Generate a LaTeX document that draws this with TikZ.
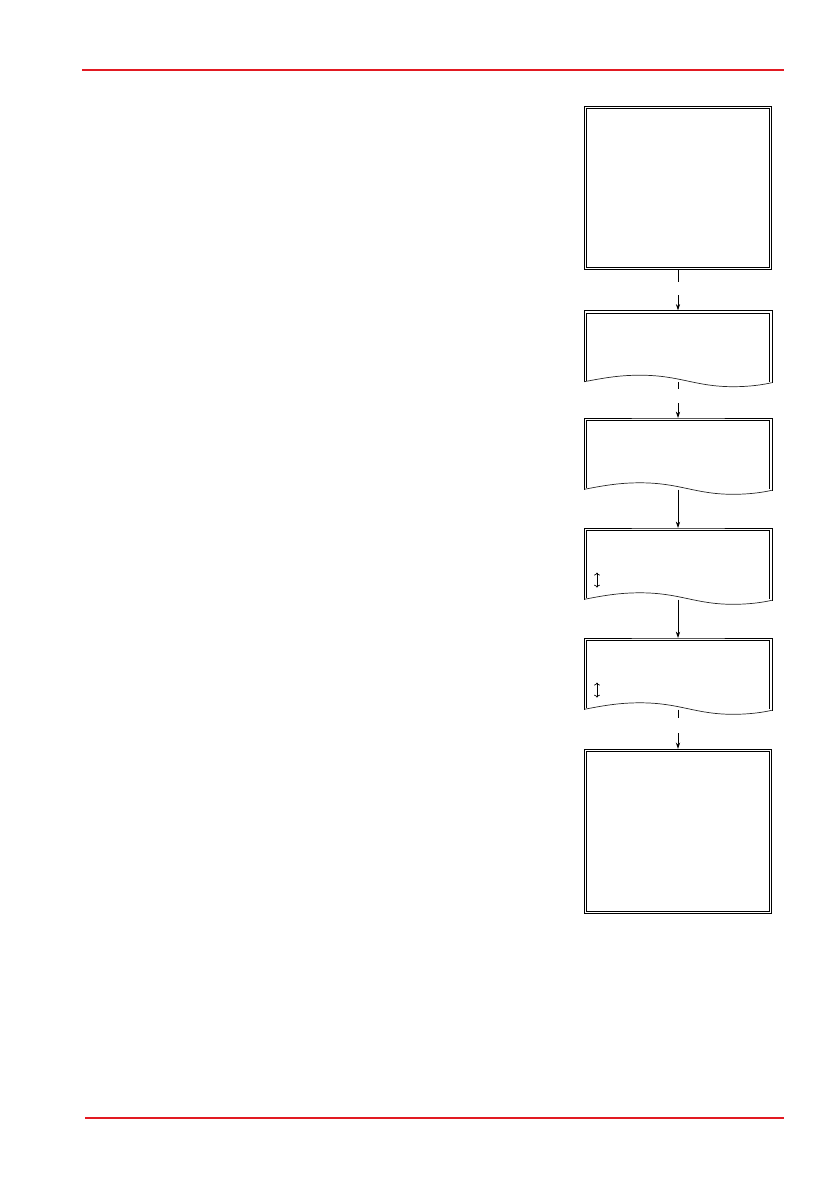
\documentclass[tikz,border=0pt]{standalone}
\usetikzlibrary{arrows.meta,calc}
\definecolor{rulered}{RGB}{226,26,34}
\begin{document}
\begin{tikzpicture}[x=0.7095pt, y=-0.7095pt]
      \tikzstyle{display}=[draw, line width=0.6pt, minimum width=133pt,
                           inner sep=0pt]
      \tikzstyle{screen}=[draw=none, minimum width=133pt, minimum height=50.4pt,
                          inner sep=0pt]
      \tikzstyle{frame}=[line width=0.6pt]
      \tikzstyle{wave}=[line width=0.5pt, black!85]
      \tikzstyle{link}=[line width=0.5pt]
      \tikzstyle{arrow}=[line width=0.5pt, -{Stealth[length=4.5pt, width=3pt]}]
      \tikzstyle{updown}=[line width=0.5pt, {To[length=2pt]}-{To[length=2pt]}]
      \tikzstyle{redline}=[rulered, line width=1.5pt]
      \useasboundingbox (0,0) rectangle (839,1191);
      % page rules
      \draw[redline] (82,70) -- (784,70);
      \draw[redline] (85,1118) -- (784,1118);
      % menu screens
      \node[display, minimum height=115.9pt] (b1) at (678,187.7) {};
      \draw[frame] ($(b1.north west)+(2.7,2.7)$) rectangle ($(b1.south east)+(-2.7,-2.7)$);
      \foreach \n/\t [evaluate=\t as \b using \t+71] in
          {b2/310.7, b3/418.3, b4/528.3, b5/638.3} {
        \node[screen] (\n) at (678,\t+35.5) {};
        \draw[frame] (\n.south west) |- (\n.north) -| ($(\n.south east)+(0,1)$);
        \draw[frame] ($(\n.south west)+(2.7,-1.5)$) |- ($(\n.north)+(0,2.7)$)
          -| ($(\n.south east)+(-2.7,-0.5)$);
        \draw[wave] (584.3,\b) .. controls (605,\b-4) and (620,\b-6.5) .. (640,\b-6.5)
          .. controls (680,\b-6.5) and (695,\b+5) .. (733,\b+5)
          .. controls (750,\b+5) and (763,\b+3) .. (771.7,\b+1);
      }
      \node[display, minimum height=116.4pt] (b6) at (678,831.3) {};
      \draw[frame] ($(b6.north west)+(2.7,2.7)$) rectangle ($(b6.south east)+(-2.7,-2.7)$);
      \draw[updown] ($(b4.south west)+(13,-27)$) -- ($(b4.south west)+(13,-12)$);
      \draw[updown] ($(b5.south west)+(13,-27)$) -- ($(b5.south west)+(13,-12)$);
      % connectors
      \coordinate (g1) at (678,282);
      \coordinate (h1) at (678,295);
      \coordinate (g2) at (678,389.3);
      \coordinate (h2) at (678,403);
      \coordinate (g5) at (678,718.3);
      \coordinate (h5) at (678,733.3);
      \draw[link] (b1) -- (g1);
      \draw[arrow] (h1) -- (b2);
      \draw[link] (b2) -- (g2);
      \draw[arrow] (h2) -- (b3);
      \draw[arrow] (b3) -- (b4);
      \draw[arrow] (b4) -- (b5);
      \draw[link] (b5) -- (g5);
      \draw[arrow] (h5) -- (b6);
    \end{tikzpicture}
\end{document}
